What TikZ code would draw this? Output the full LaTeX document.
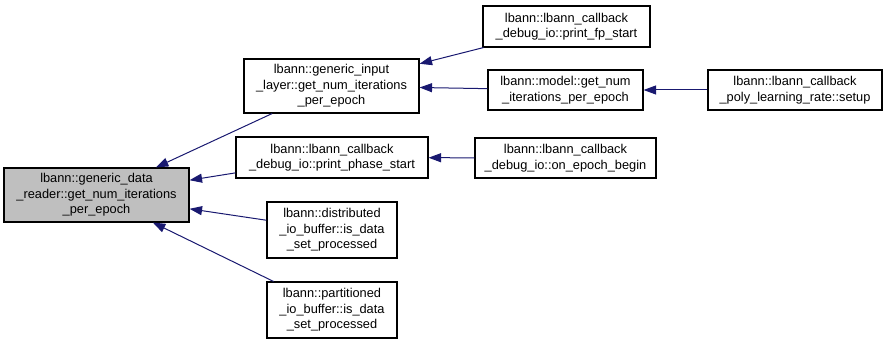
\documentclass[tikz,border=0pt]{standalone}
\usepackage{fontspec}
\setmainfont{Liberation Sans}
\usetikzlibrary{arrows.meta}

\definecolor{edgeblue}{RGB}{25,25,112}
\definecolor{rootgray}{RGB}{191,191,191}

\tikzset{
  fn/.style={draw, line width=1.1pt, align=center, inner sep=0pt,
    font=\fontsize{12.8}{15.5}\selectfont},
  root/.style={fn, fill=rootgray},
  call/.style={edgeblue, line width=1pt, -{Triangle[length=12.5pt,width=9pt]}}
}

\begin{document}
\begin{tikzpicture}[x=1pt, y=-1pt]
      \useasboundingbox (0,0) rectangle (888,344);
      \draw
        (96.5,195) node[root, minimum width=185, minimum height=54] (A)
          {lbann::generic\_data\\\_reader::get\_num\_iterations\\\_per\_epoch}
        (331.5,86) node[fn, minimum width=175, minimum height=54] (B)
          {lbann::generic\_input\\\_layer::get\_num\_iterations\\\_per\_epoch}
        (332,157.5) node[fn, minimum width=192, minimum height=41] (C)
          {lbann::lbann\_callback\\\_debug\_io::print\_phase\_start}
        (332,230) node[fn, minimum width=130, minimum height=56] (D)
          {lbann::distributed\\\_io\_buffer::is\_data\\\_set\_processed}
        (332,310) node[fn, minimum width=130, minimum height=56] (E)
          {lbann::partitioned\\\_io\_buffer::is\_data\\\_set\_processed}
        (566.5,26.5) node[fn, minimum width=167, minimum height=41] (F)
          {lbann::lbann\_callback\\\_debug\_io::print\_fp\_start}
        (565.5,90) node[fn, minimum width=155, minimum height=40] (G)
          {lbann::model::get\_num\\\_iterations\_per\_epoch}
        (565.5,158) node[fn, minimum width=181, minimum height=40] (H)
          {lbann::lbann\_callback\\\_debug\_io::on\_epoch\_begin}
        (795,90) node[fn, minimum width=174, minimum height=40] (I)
          {lbann::lbann\_callback\\\_poly\_learning\_rate::setup};
      \begin{scope}[call]
        \draw (B) to (A);
        \draw (C) to (A);
        \draw (D) to (A);
        \draw (E) to (A);
        \draw (F) to (B);
        \draw (G) to (B);
        \draw (H) to (C);
        \draw (I) to (G);
      \end{scope}
    \end{tikzpicture}
\end{document}
